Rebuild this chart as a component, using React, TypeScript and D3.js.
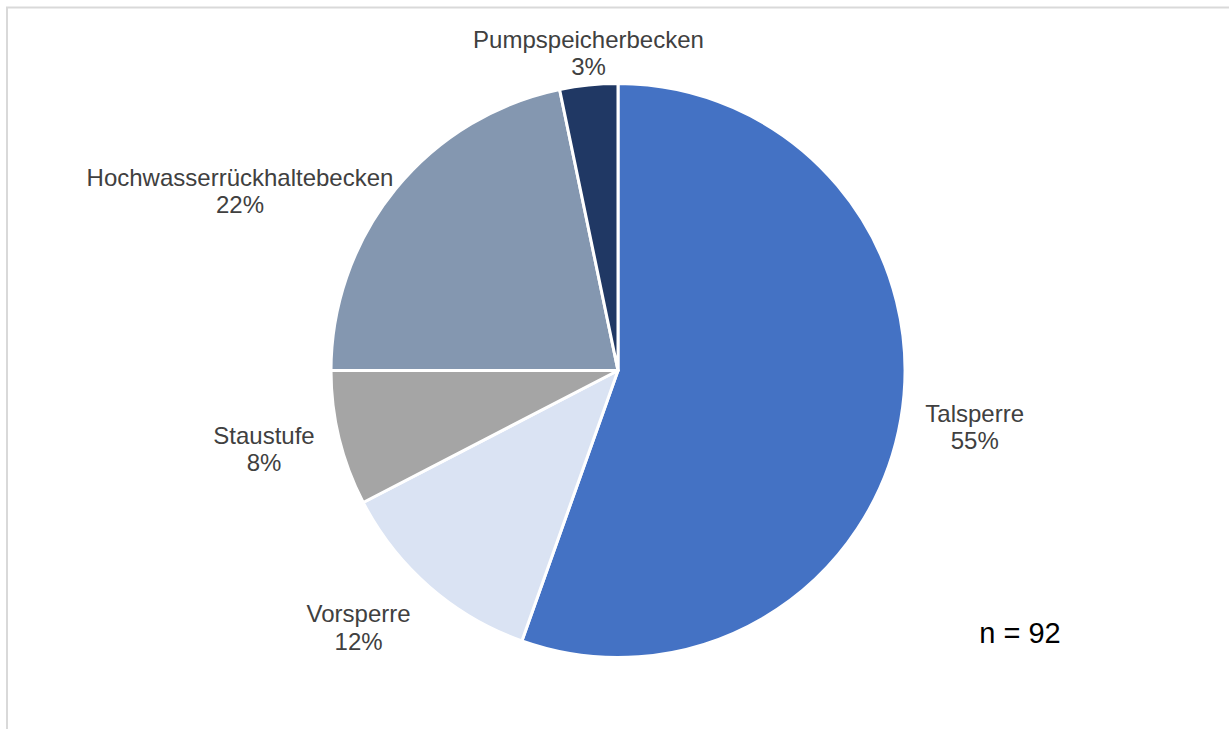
import React, { useEffect, useRef } from 'react';
import * as d3 from 'd3';

// Anteile der Anlagentypen (Anzahl, n = 92)
const categories = ['Talsperre', 'Vorsperre', 'Staustufe', 'Hochwasserrückhaltebecken', 'Pumpspeicherbecken'];
const counts = [51, 11, 7, 20, 3];
const sliceColors = ['#4472C4', '#DAE3F3', '#A5A5A5', '#8497B0', '#203864'];
const noteText = 'n = 92';

const W = 1229;
const H = 729;

export default function App() {
  const ref = useRef<SVGSVGElement>(null);

  useEffect(() => {
    const svg = d3.select(ref.current);
    svg.selectAll('*').remove();

    const cx = 618, cy = 370.5, radius = 287;
    const total = d3.sum(counts);

    // chart frame (runs off right and bottom of the picture)
    svg.append('rect')
      .attr('x', 7).attr('y', 7.5)
      .attr('width', W + 20).attr('height', H + 20)
      .attr('fill', '#fff')
      .attr('stroke', '#d9d9d9')
      .attr('stroke-width', 2);

    const pie = d3.pie<number>().sort(null).value(d => d);
    const arc = d3.arc<d3.PieArcDatum<number>>().innerRadius(0).outerRadius(radius);
    const arcs = pie(counts);

    const g = svg.append('g').attr('transform', `translate(${cx},${cy})`);

    g.selectAll('path')
      .data(arcs)
      .enter()
      .append('path')
      .attr('d', arc)
      .attr('fill', (d, i) => sliceColors[i])
      .attr('stroke', '#fff')
      .attr('stroke-width', 3)
      .attr('stroke-linejoin', 'round');

    // labels placed outside the slices, along the middle angle
    const gap = 18;
    const lineH = 27.3;
    // small corrections to follow the original label placement
    const nudge = [[7.5, 0.4], [-24.8, 6.6], [-8.4, 0.2], [-22.4, 30.4], [13.5, 13.1]];

    arcs.forEach((d, i) => {
      const mid = (d.startAngle + d.endAngle) / 2;
      const s = Math.sin(mid), c = Math.cos(mid);
      const lab = g.append('g');
      const txt = lab.append('text')
        .attr('text-anchor', 'middle')
        .style('font-family', '"Liberation Sans", Arial, sans-serif')
        .style('font-size', '24px')
        .attr('fill', '#404040');
      txt.append('tspan').attr('x', 0).attr('y', 0).text(categories[i]);
      txt.append('tspan').attr('x', 0).attr('y', lineH)
        .text(Math.round((d.value / total) * 100) + '%');

      const bb = (txt.node() as SVGTextElement).getBBox();
      const bcx = bb.x + bb.width / 2, bcy = bb.y + bb.height / 2;
      const tx = (radius + gap) * s + s * bb.width / 2 + nudge[i][0];
      const ty = -(radius + gap) * c - c * bb.height / 2 + nudge[i][1];
      lab.attr('transform', `translate(${tx - bcx},${ty - bcy})`);
    });

    svg.append('text')
      .attr('x', 1020).attr('y', 643)
      .attr('text-anchor', 'middle')
      .style('font-family', '"Liberation Sans", Arial, sans-serif')
      .style('font-size', '29px')
      .attr('fill', '#000')
      .text(noteText);
  }, []);

  return (
    <svg ref={ref} width={W} height={H}
      style={{ position: 'absolute', left: 0, top: 0, display: 'block', background: '#fff' }} />
  );
}
